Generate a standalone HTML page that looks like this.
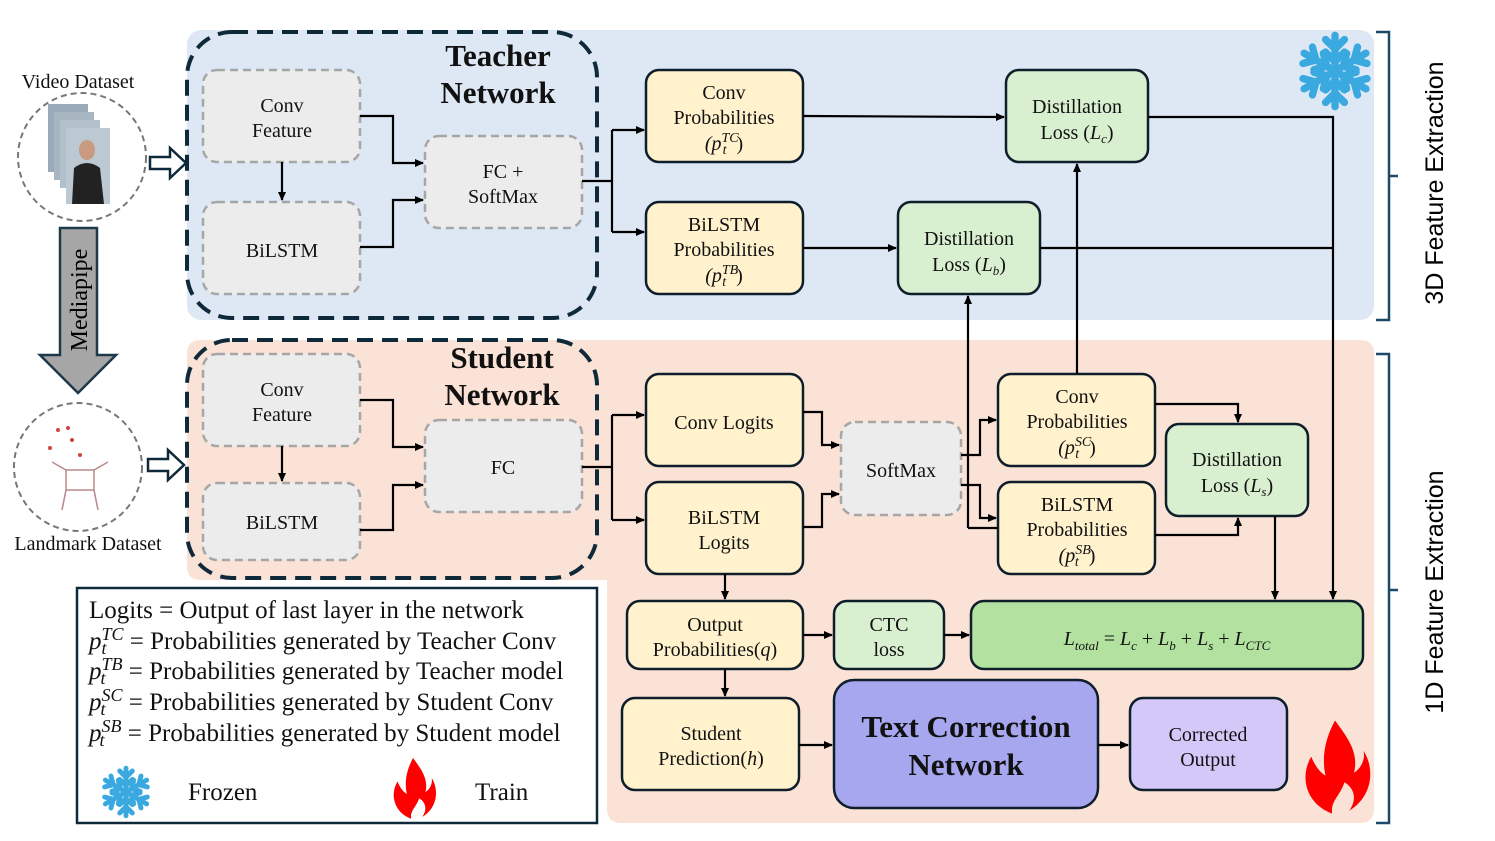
<!DOCTYPE html>
<html><head><meta charset="utf-8"><style>
html,body{margin:0;padding:0;background:#fff;}
svg{display:block;font-family:"Liberation Serif",serif;}
.g{fill:#ececec;stroke:#a6a6a6;stroke-width:2.5;stroke-dasharray:8 5;}
.y{fill:#fff2cc;stroke:#0e1e2a;stroke-width:2.5;}
.lg{fill:#d9f0d0;stroke:#0e1e2a;stroke-width:2.5;}
.w{stroke:#000;stroke-width:2.2;fill:none;}
.t{font-size:20px;text-anchor:middle;fill:#111;}
.big{font-size:31px;font-weight:bold;text-anchor:middle;fill:#111;}
.lt{font-size:25px;fill:#111;}
</style></head><body>
<svg width="1495" height="841" viewBox="0 0 1495 841" xmlns="http://www.w3.org/2000/svg">
<defs>
<marker id="a" markerWidth="10" markerHeight="10" refX="8" refY="5" orient="auto" markerUnits="userSpaceOnUse"><path d="M0,1 L9,5 L0,9 Z" fill="#000"/></marker>
<g id="snow" stroke="#3aa9e0" stroke-width="7" stroke-linecap="round" fill="none">
<g id="arm"><line x1="0" y1="0" x2="0" y2="-34"/><polyline points="-9,-30 0,-21 9,-30"/><polyline points="-9,-18 0,-9 9,-18"/></g>
<use href="#arm" transform="rotate(60)"/><use href="#arm" transform="rotate(120)"/><use href="#arm" transform="rotate(180)"/><use href="#arm" transform="rotate(240)"/><use href="#arm" transform="rotate(300)"/>
</g>
<path id="fire" d="M0,-50 C15,-30 25,-15 20,5 C28,0 32,-10 30,-18 C42,0 40,30 15,45 C25,30 18,20 10,15 C5,30 -5,35 -3,48 C-30,38 -38,10 -25,-12 C-20,0 -15,5 -10,8 C-15,-15 -8,-35 0,-50 Z" fill="#ff0000"/>
</defs>

<rect x="187" y="30" width="1187" height="290" rx="14" fill="#dde8f4"/>
<path d="M201,340 H1360 Q1374,340 1374,354 V809 Q1374,823 1360,823 H621 Q607,823 607,809 V580 H201 Q187,580 187,566 V354 Q187,340 201,340 Z" fill="#fbe2d6"/>

<path d="M1376,32 H1389 V320 H1376 M1389,176 H1398" stroke="#1e4a6a" stroke-width="2.5" fill="none"/>
<path d="M1376,354 H1389 V823 H1376 M1389,590 H1398" stroke="#1e4a6a" stroke-width="2.5" fill="none"/>
<text transform="translate(1443,183) rotate(-90)" text-anchor="middle" font-family="Liberation Sans" font-size="25">3D Feature Extraction</text>
<text transform="translate(1443,592) rotate(-90)" text-anchor="middle" font-family="Liberation Sans" font-size="25">1D Feature Extraction</text>

<rect x="187" y="32" width="410" height="286" rx="45" fill="none" stroke="#0e2a3a" stroke-width="4" stroke-dasharray="16 9"/>
<rect x="187" y="340" width="410" height="238" rx="45" fill="none" stroke="#0e2a3a" stroke-width="4" stroke-dasharray="16 9"/>
<text x="498" y="66" class="big">Teacher</text>
<text x="498" y="103" class="big">Network</text>
<text x="502" y="368" class="big">Student</text>
<text x="502" y="405" class="big">Network</text>

<rect class="g" x="203" y="70" width="157" height="92" rx="14"/>
<text class="t" x="282" y="112">Conv</text><text class="t" x="282" y="137">Feature</text>
<rect class="g" x="203" y="202" width="157" height="92" rx="14"/>
<text class="t" x="282" y="257">BiLSTM</text>
<rect class="g" x="425" y="136" width="157" height="92" rx="14"/>
<text class="t" x="503" y="178">FC +</text><text class="t" x="503" y="203">SoftMax</text>
<rect class="g" x="203" y="354" width="157" height="92" rx="14"/>
<text class="t" x="282" y="396">Conv</text><text class="t" x="282" y="421">Feature</text>
<rect class="g" x="203" y="483" width="157" height="77" rx="14"/>
<text class="t" x="282" y="529">BiLSTM</text>
<rect class="g" x="425" y="420" width="157" height="92" rx="14"/>
<text class="t" x="503" y="474">FC</text>
<rect class="g" x="841" y="422" width="120" height="93" rx="14"/>
<text class="t" x="901" y="477">SoftMax</text>

<rect class="y" x="646" y="70" width="157" height="92" rx="13"/>
<text class="t" x="724" y="99">Conv</text><text class="t" x="724" y="124">Probabilities</text><text class="t" x="724" y="150" font-style="italic">(p<tspan style="font-size:14px" dy="-8">TC</tspan><tspan style="font-size:14px" dx="-16" dy="12">t</tspan><tspan dx="10" dy="-4" font-style="normal">)</tspan></text>
<rect class="y" x="646" y="202" width="157" height="92" rx="13"/>
<text class="t" x="724" y="231">BiLSTM</text><text class="t" x="724" y="256">Probabilities</text><text class="t" x="724" y="282" font-style="italic">(p<tspan style="font-size:14px" dy="-8">TB</tspan><tspan style="font-size:14px" dx="-16" dy="12">t</tspan><tspan dx="10" dy="-4" font-style="normal">)</tspan></text>
<rect class="y" x="646" y="374" width="157" height="92" rx="13"/>
<text class="t" x="724" y="429">Conv Logits</text>
<rect class="y" x="646" y="482" width="157" height="92" rx="13"/>
<text class="t" x="724" y="524">BiLSTM</text><text class="t" x="724" y="549">Logits</text>
<rect class="y" x="998" y="374" width="157" height="92" rx="13"/>
<text class="t" x="1077" y="403">Conv</text><text class="t" x="1077" y="428">Probabilities</text><text class="t" x="1077" y="454" font-style="italic">(p<tspan style="font-size:14px" dy="-8">SC</tspan><tspan style="font-size:14px" dx="-16" dy="12">t</tspan><tspan dx="10" dy="-4" font-style="normal">)</tspan></text>
<rect class="y" x="998" y="482" width="157" height="92" rx="13"/>
<text class="t" x="1077" y="511">BiLSTM</text><text class="t" x="1077" y="536">Probabilities</text><text class="t" x="1077" y="562" font-style="italic">(p<tspan style="font-size:14px" dy="-8">SB</tspan><tspan style="font-size:14px" dx="-16" dy="12">t</tspan><tspan dx="10" dy="-4" font-style="normal">)</tspan></text>
<rect class="y" x="627" y="601" width="176" height="68" rx="13"/>
<text class="t" x="715" y="631">Output</text><text class="t" x="715" y="656">Probabilities(<tspan font-style="italic">q</tspan>)</text>
<rect class="y" x="622" y="698" width="177" height="92" rx="13"/>
<text class="t" x="711" y="740">Student</text><text class="t" x="711" y="765">Prediction(<tspan font-style="italic">h</tspan>)</text>

<rect class="lg" x="1006" y="70" width="142" height="92" rx="13"/>
<text class="t" x="1077" y="113">Distillation</text><text class="t" x="1077" y="139">Loss (<tspan font-style="italic">L<tspan style="font-size:13px" dy="4">c</tspan></tspan><tspan dy="-4">)</tspan></text>
<rect class="lg" x="898" y="202" width="142" height="92" rx="13"/>
<text class="t" x="969" y="245">Distillation</text><text class="t" x="969" y="271">Loss (<tspan font-style="italic">L<tspan style="font-size:13px" dy="4">b</tspan></tspan><tspan dy="-4">)</tspan></text>
<rect class="lg" x="1166" y="424" width="142" height="92" rx="13"/>
<text class="t" x="1237" y="466">Distillation</text><text class="t" x="1237" y="492">Loss (<tspan font-style="italic">L<tspan style="font-size:13px" dy="4">s</tspan></tspan><tspan dy="-4">)</tspan></text>
<rect class="lg" x="834" y="601" width="110" height="68" rx="13"/>
<text class="t" x="889" y="631">CTC</text><text class="t" x="889" y="656">loss</text>
<rect x="971" y="601" width="392" height="68" rx="13" fill="#b3e2a0" stroke="#0e1e2a" stroke-width="2.5"/>
<text class="t" x="1167" y="645" font-style="italic">L<tspan style="font-size:13px" dy="5">total</tspan><tspan dy="-5" font-style="normal"> = </tspan>L<tspan style="font-size:13px" dy="5">c</tspan><tspan dy="-5" font-style="normal"> + </tspan>L<tspan style="font-size:13px" dy="5">b</tspan><tspan dy="-5" font-style="normal"> + </tspan>L<tspan style="font-size:13px" dy="5">s</tspan><tspan dy="-5" font-style="normal"> + </tspan>L<tspan style="font-size:13px" dy="5">CTC</tspan></text>

<rect x="834" y="680" width="264" height="128" rx="20" fill="#a7a7ef" stroke="#0e1e2a" stroke-width="2.5"/>
<text class="big" x="966" y="737">Text Correction</text>
<text class="big" x="966" y="775">Network</text>
<rect x="1130" y="698" width="157" height="92" rx="13" fill="#d4c8f8" stroke="#0e1e2a" stroke-width="2.5"/>
<text class="t" x="1208" y="741">Corrected</text><text class="t" x="1208" y="766">Output</text>

<g class="w">
<path d="M282,162 V200" marker-end="url(#a)"/>
<path d="M360,116 H393 V163 H423" marker-end="url(#a)"/>
<path d="M360,247 H393 V200 H423" marker-end="url(#a)"/>
<path d="M582,181 H612"/><path d="M612,130 V232"/>
<path d="M612,130 H644" marker-end="url(#a)"/><path d="M612,232 H644" marker-end="url(#a)"/>
<path d="M282,446 V481" marker-end="url(#a)"/>
<path d="M360,400 H393 V447 H423" marker-end="url(#a)"/>
<path d="M360,530 H393 V485 H423" marker-end="url(#a)"/>
<path d="M582,467 H612"/><path d="M612,415 V520"/>
<path d="M612,415 H644" marker-end="url(#a)"/><path d="M612,520 H644" marker-end="url(#a)"/>
<path d="M803,116 L1004,117" marker-end="url(#a)"/>
<path d="M803,248 H896" marker-end="url(#a)"/>
<path d="M1148,117 H1333 V599" marker-end="url(#a)"/>
<path d="M1040,248 H1333"/>
<path d="M968,528 V296" marker-end="url(#a)"/>
<path d="M968,528 H998"/>
<path d="M1077,374 V164" marker-end="url(#a)"/>
<path d="M803,412 H822 V445 H839" marker-end="url(#a)"/>
<path d="M803,527 H822 V494 H839" marker-end="url(#a)"/>
<path d="M961,455 H980 V420 H996" marker-end="url(#a)"/>
<path d="M961,485 H980 V518 H996" marker-end="url(#a)"/>
<path d="M1155,404 H1238 V422" marker-end="url(#a)"/>
<path d="M1155,535 H1238 V518" marker-end="url(#a)"/>
<path d="M1275,516 V599" marker-end="url(#a)"/>
<path d="M725,574 V599" marker-end="url(#a)"/>
<path d="M803,635 H832" marker-end="url(#a)"/>
<path d="M944,635 H969" marker-end="url(#a)"/>
<path d="M725,669 V696" marker-end="url(#a)"/>
<path d="M799,745 H832" marker-end="url(#a)"/>
<path d="M1098,745 H1128" marker-end="url(#a)"/>
</g>

<text x="78" y="88" class="t">Video Dataset</text>
<circle cx="82" cy="157" r="64" fill="#fff" stroke="#777" stroke-width="2" stroke-dasharray="6 4"/>
<rect x="48" y="104" width="40" height="68" fill="#9aaab8"/>
<rect x="54" y="112" width="40" height="68" fill="#a8b6c2"/>
<rect x="60" y="120" width="40" height="68" fill="#b2c0cc"/>
<rect x="66" y="128" width="44" height="76" fill="#bcc8d2"/>
<ellipse cx="87" cy="150" rx="8" ry="10" fill="#c89a80"/>
<path d="M72,204 L74,168 Q87,158 100,168 L104,204 Z" fill="#222"/>
<circle cx="78" cy="467" r="64" fill="#fff" stroke="#777" stroke-width="2" stroke-dasharray="6 4"/>
<g stroke="#b88" stroke-width="1.5" fill="none">
<path d="M66,470 H94 M66,470 V490 M94,470 V490 M66,490 H94 M66,490 L62,510 M94,490 L98,510 M66,470 L52,462 M94,470 L108,462"/>
</g>
<g fill="#c44"><circle cx="58" cy="430" r="2"/><circle cx="72" cy="440" r="2"/><circle cx="50" cy="448" r="2"/><circle cx="80" cy="455" r="2"/><circle cx="68" cy="428" r="2"/></g>
<text x="88" y="550" class="t">Landmark Dataset</text>
<path d="M150,157 H170 V148 L186,163 L170,178 V169 H150 Z" fill="#fff" stroke="#0e2a3a" stroke-width="2.5"/>
<path d="M148,459 H168 V450 L184,465 L168,480 V471 H148 Z" fill="#fff" stroke="#0e2a3a" stroke-width="2.5"/>
<path d="M60,228 H97 V355 H116 L78,393 L40,355 H60 Z" fill="#a6a6a6" stroke="#1e3a4a" stroke-width="2.5"/>
<text transform="translate(87,300) rotate(-90)" text-anchor="middle" font-size="24">Mediapipe</text>

<use href="#snow" transform="translate(1335,71) scale(1.05)"/>
<use href="#fire" transform="translate(1335,768) scale(0.95)"/>

<rect x="77" y="588" width="520" height="235" fill="#fff" stroke="#0e2a3a" stroke-width="2.5"/>
<text class="lt" x="89" y="618">Logits = Output of last layer in the network</text>
<text class="lt" x="89" y="649"><tspan font-style="italic">p<tspan style="font-size:18px" dy="-9">TC</tspan><tspan style="font-size:18px" dx="-22" dy="14">t</tspan></tspan><tspan dx="17" dy="-5"> = Probabilities generated by Teacher Conv</tspan></text>
<text class="lt" x="89" y="679"><tspan font-style="italic">p<tspan style="font-size:18px" dy="-9">TB</tspan><tspan style="font-size:18px" dx="-22" dy="14">t</tspan></tspan><tspan dx="17" dy="-5"> = Probabilities generated by Teacher model</tspan></text>
<text class="lt" x="89" y="710"><tspan font-style="italic">p<tspan style="font-size:18px" dy="-9">SC</tspan><tspan style="font-size:18px" dx="-22" dy="14">t</tspan></tspan><tspan dx="17" dy="-5"> = Probabilities generated by Student Conv</tspan></text>
<text class="lt" x="89" y="741"><tspan font-style="italic">p<tspan style="font-size:18px" dy="-9">SB</tspan><tspan style="font-size:18px" dx="-22" dy="14">t</tspan></tspan><tspan dx="17" dy="-5"> = Probabilities generated by Student model</tspan></text>
<use href="#snow" transform="translate(126,792) scale(0.7)"/>
<text class="lt" x="188" y="800">Frozen</text>
<use href="#fire" transform="translate(413,789) scale(0.62)"/>
<text class="lt" x="475" y="800">Train</text>
</svg>
</body></html>
